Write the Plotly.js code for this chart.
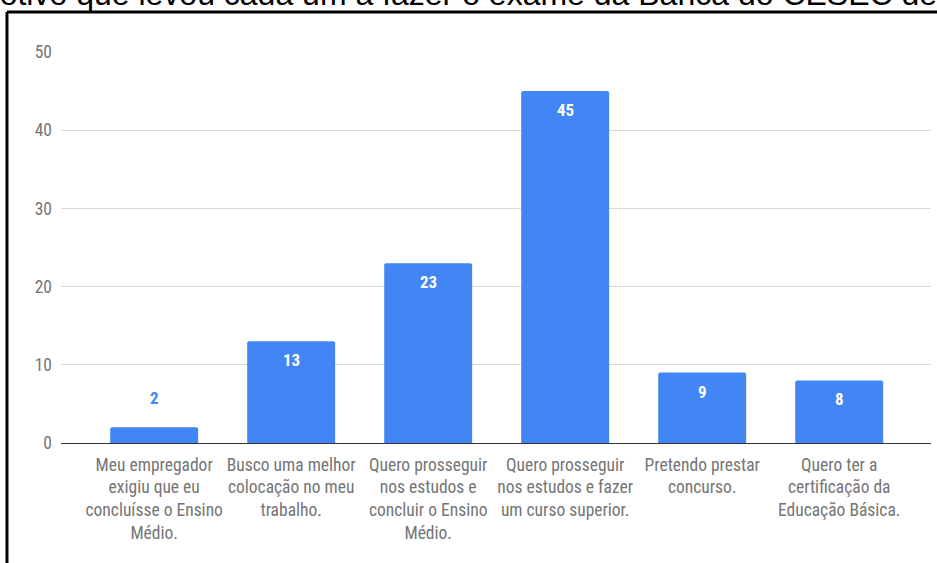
<!DOCTYPE html>
<html>
<head>
<meta charset="utf-8">
<script src="https://cdn.plot.ly/plotly-3.0.1.min.js"></script>
<style>
html,body{margin:0;padding:0;background:#fff;overflow:hidden;}
#chart{width:937px;height:563px;}
</style>
</head>
<body>
<div id="chart"></div>
<script>
const categories = [
  "Meu empregador<br>exigiu que eu<br>concluísse o Ensino<br>Médio.",
  "Busco uma melhor<br>colocação no meu<br>trabalho.",
  "Quero prosseguir<br>nos estudos e<br>concluir o Ensino<br>Médio.",
  "Quero prosseguir<br>nos estudos e fazer<br>um curso superior.",
  "Pretendo prestar<br>concurso.",
  "Quero ter a<br>certificação da<br>Educação Básica."
];
const values = [2, 13, 23, 45, 9, 8];
const yTicks = [0, 10, 20, 30, 40, 50];
const titleText = "Motivo que levou cada um a fazer o exame da Banca do CESEC de";

const narrow = '"Liberation Sans Narrow", "Roboto Condensed", "Arial Narrow", Roboto, sans-serif';
const blue = '#4285F4';
const idx = categories.map((_, i) => i);

const trace = {
  type: 'bar',
  x: idx,
  y: values,
  marker: {color: blue, cornerradius: 2},
  hoverinfo: 'x+y',
  showlegend: false
};

const annotations = values.map((v, i) => {
  const inside = v >= 5;
  return {
    x: i, y: v, xref: 'x', yref: 'y',
    text: String(v), showarrow: false,
    xanchor: 'center', yanchor: 'middle',
    yshift: inside ? -19 : 29,
    font: {family: narrow, size: 17, color: inside ? '#ffffff' : blue, weight: 'bold'}
  };
});
annotations.push({
  xref: 'paper', yref: 'paper', x: -0.103, y: 1.096,
  xanchor: 'left', yanchor: 'bottom',
  text: titleText, showarrow: false,
  font: {family: '"Liberation Sans", Arial, sans-serif', size: 32, color: '#000'}
});

const layout = {
  width: 937, height: 563,
  margin: {l: 61, r: 6, t: 52, b: 120, pad: 0},
  paper_bgcolor: '#fff', plot_bgcolor: '#fff',
  bargap: 0.358,
  xaxis: {
    range: [-0.68, 5.67],
    tickmode: 'array', tickvals: idx, ticktext: categories,
    showgrid: false, zeroline: false, showline: false, ticks: '',
    ticklabelstandoff: 9,
    tickfont: {family: narrow, size: 17.5, color: '#757575'},
    fixedrange: true
  },
  yaxis: {
    range: [0, 50],
    tickmode: 'array', tickvals: yTicks,
    showgrid: true, gridcolor: '#d9d9d9', gridwidth: 1,
    zeroline: true, zerolinecolor: '#333', zerolinewidth: 1,
    showline: false, ticks: '',
    ticklabelstandoff: 8,
    tickfont: {family: narrow, size: 17.5, color: '#757575'},
    fixedrange: true
  },
  annotations: annotations,
  shapes: [
    {type: 'line', xref: 'paper', yref: 'paper', x0: -0.0621, x1: 1.2, y0: 1.1023, y1: 1.1023,
     line: {color: '#000', width: 3}},
    {type: 'line', xref: 'paper', yref: 'paper', x0: -0.0621, x1: -0.0621, y0: 1.1023, y1: -0.5,
     line: {color: '#000', width: 3}}
  ]
};

Plotly.newPlot('chart', [trace], layout, {displayModeBar: false, staticPlot: true});
</script>
</body>
</html>
